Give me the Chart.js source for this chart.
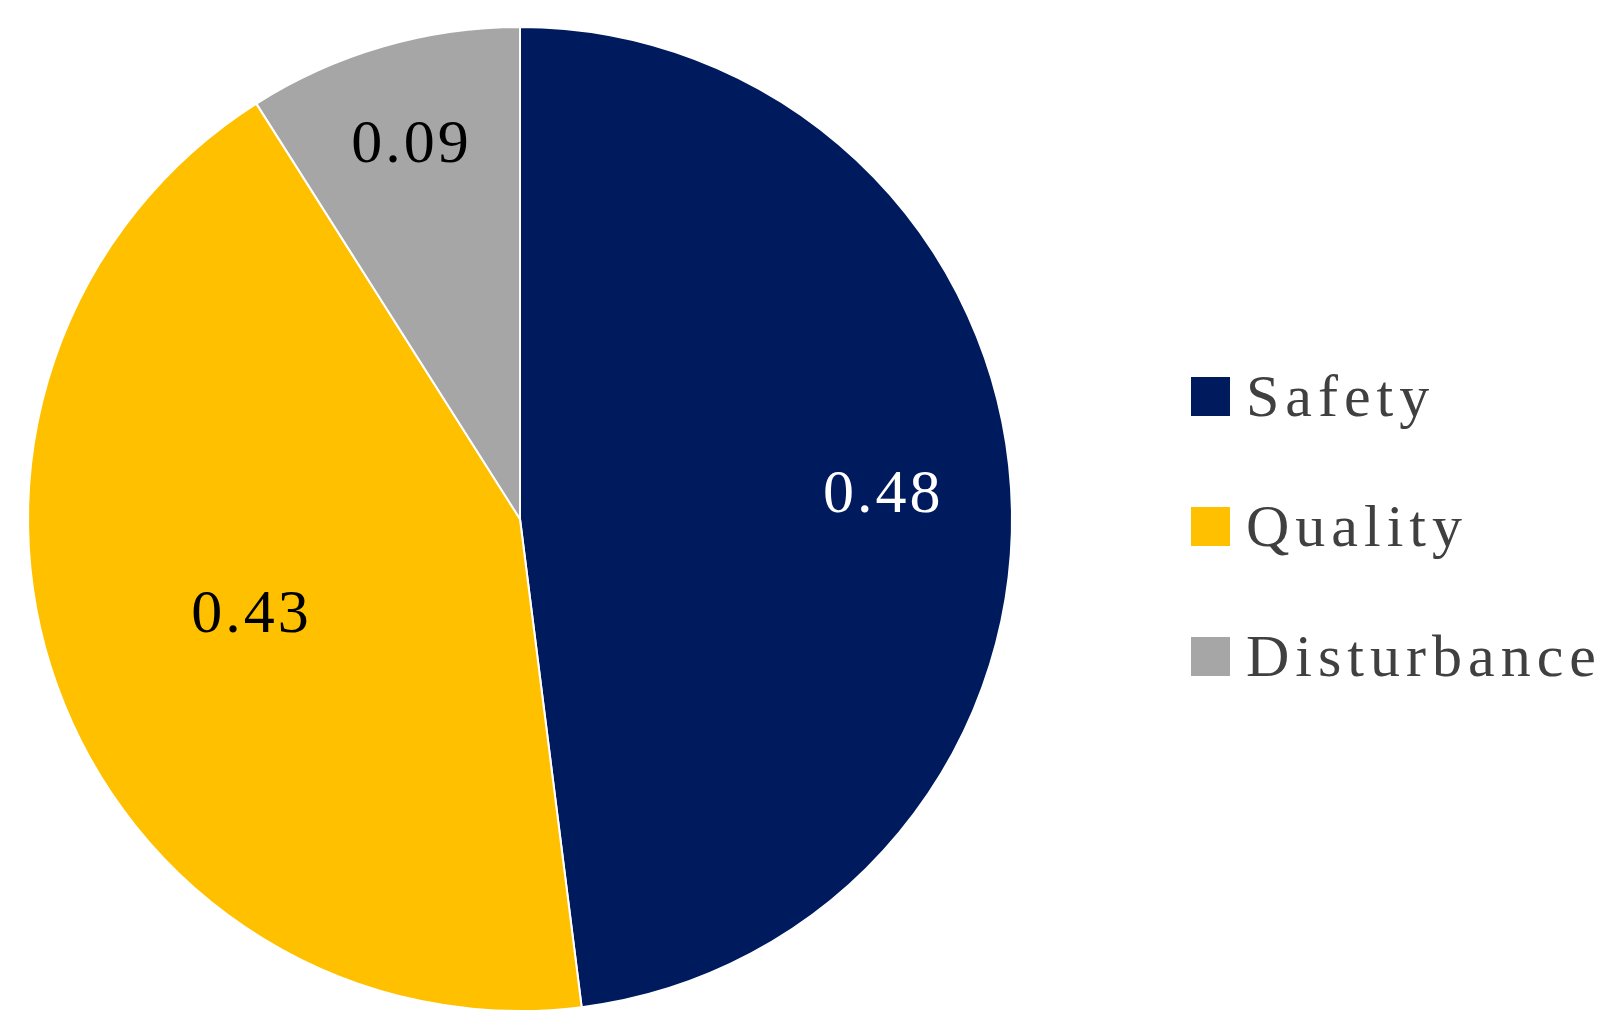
<!DOCTYPE html>
<html>
<head>
<meta charset="utf-8">
<script src="https://cdn.jsdelivr.net/npm/chart.js@4"></script>
<style>
  body { margin: 0; background: #fff; width: 1619px; height: 1030px; overflow: hidden; position: relative; }
  #wrap { position: absolute; left: 0; top: 0; width: 1040px; height: 1030px; }
  #legend { position: absolute; left: 1191px; top: 331px; font-family: "Liberation Serif", serif; font-size: 60px; letter-spacing: 6px; color: #404040; }
  .item { display: flex; align-items: center; height: 130px; }
  .box { width: 39px; height: 39px; margin-right: 16px; }
</style>
</head>
<body>
<div id="wrap"><canvas id="pie"></canvas></div>
<div id="legend"></div>
<script>
const labels = ['Safety', 'Quality', 'Disturbance'];
const values = [0.48, 0.43, 0.09];
const colors = ['#001a5e', '#ffc000', '#a6a6a6'];
const labelColors = ['#ffffff', '#000000', '#000000'];

// legend
const legend = document.getElementById('legend');
labels.forEach((l, i) => {
    const d = document.createElement('div');
    d.className = 'item';
    d.innerHTML = `<span class="box" style="background:${colors[i]}"></span>${l}`;
    legend.appendChild(d);
});

// value labels on slices
const sliceLabels = {
    id: 'sliceLabels',
    afterDatasetsDraw(chart) {
        const ctx = chart.ctx;
        const meta = chart.getDatasetMeta(0);
        const dist = [0.74, 0.58, 0.79];
        ctx.save();
        ctx.font = '62px "Liberation Serif", serif';
        ctx.letterSpacing = '3px';
        ctx.textAlign = 'center';
        ctx.textBaseline = 'middle';
        meta.data.forEach((arc, i) => {
            const mid = (arc.startAngle + arc.endAngle) / 2;
            const r = arc.outerRadius * dist[i];
            ctx.fillStyle = labelColors[i];
            ctx.fillText(values[i].toFixed(2), arc.x + Math.cos(mid) * r, arc.y + Math.sin(mid) * r);
        });
        ctx.restore();
    }
};

new Chart(document.getElementById('pie'), {
    type: 'pie',
    data: {
        labels: labels,
        datasets: [{ data: values, backgroundColor: colors, borderColor: '#ffffff', borderWidth: 2 }]
    },
    options: {
        responsive: true,
        maintainAspectRatio: false,
        animation: false,
        layout: { padding: { top: 26, bottom: 18, left: 0, right: 0 } },
        plugins: { legend: { display: false }, tooltip: { enabled: false } }
    },
    plugins: [sliceLabels]
});
</script>
</body>
</html>
